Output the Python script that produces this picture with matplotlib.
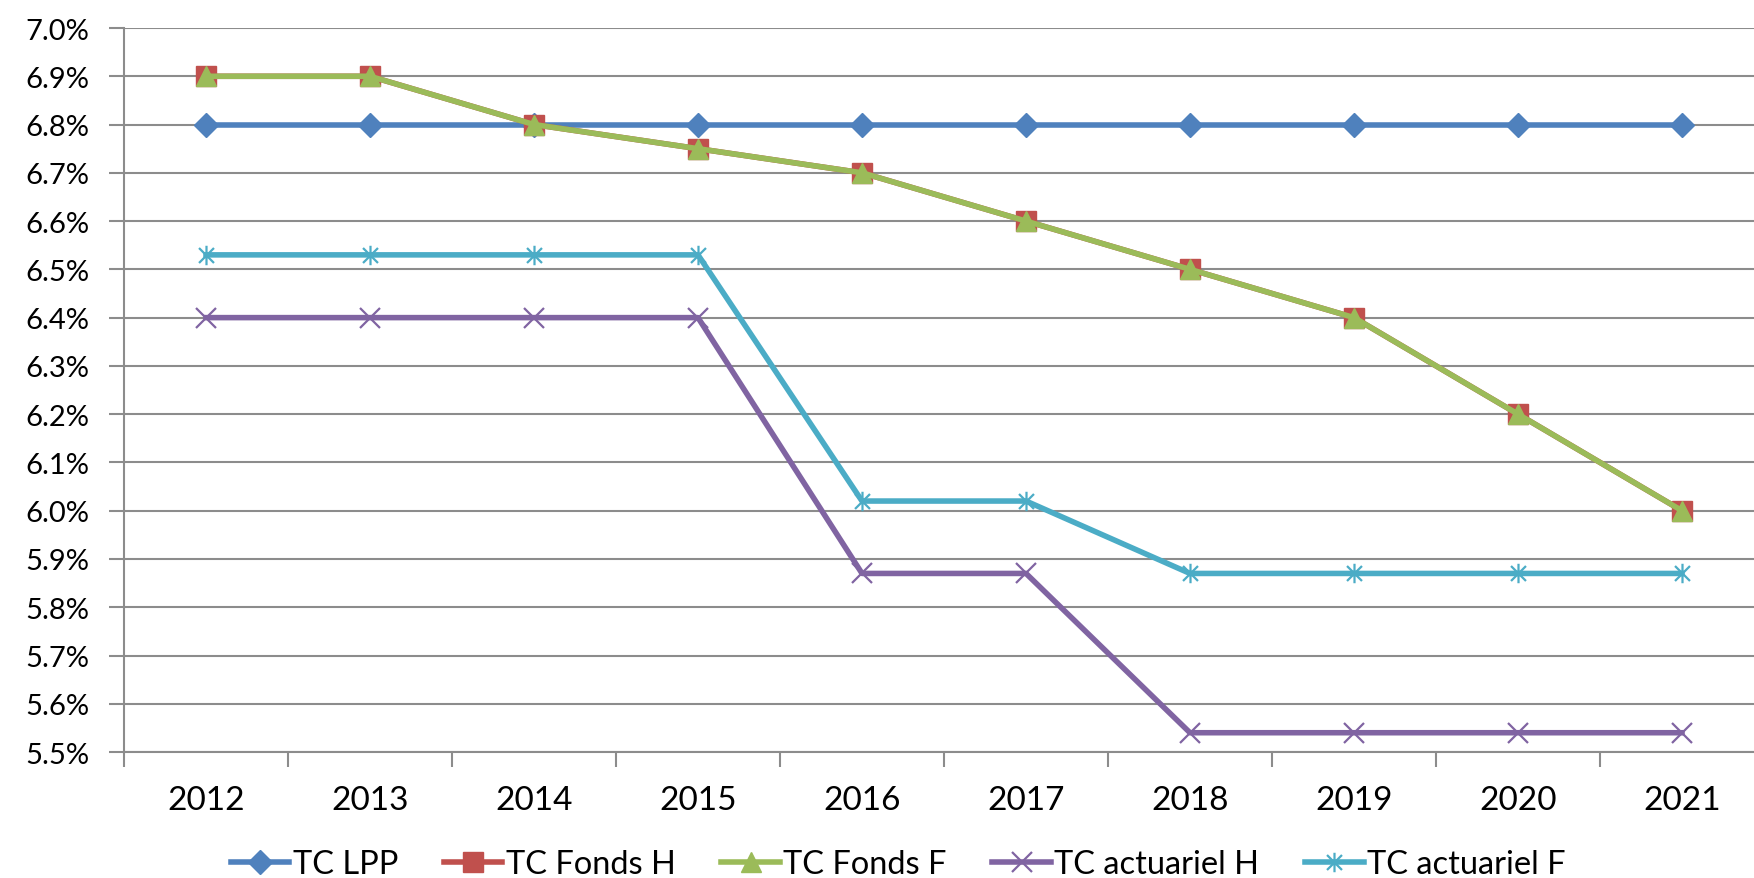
import matplotlib
matplotlib.use("Agg")
import matplotlib.pyplot as plt
from matplotlib.path import Path
from matplotlib.ticker import FixedLocator, PercentFormatter

plt.rcParams['font.family'] = ['Lato', 'DejaVu Sans']

years = ['2012', '2013', '2014', '2015', '2016', '2017', '2018', '2019', '2020', '2021']
tc_lpp = [6.8, 6.8, 6.8, 6.8, 6.8, 6.8, 6.8, 6.8, 6.8, 6.8]
tc_fonds_h = [6.9, 6.9, 6.8, 6.75, 6.7, 6.6, 6.5, 6.4, 6.2, 6.0]
tc_fonds_f = [6.9, 6.9, 6.8, 6.75, 6.7, 6.6, 6.5, 6.4, 6.2, 6.0]
tc_act_h = [6.4, 6.4, 6.4, 6.4, 5.87, 5.87, 5.54, 5.54, 5.54, 5.54]
tc_act_f = [6.53, 6.53, 6.53, 6.53, 6.02, 6.02, 5.87, 5.87, 5.87, 5.87]

# asterisk marker like excel: x plus a vertical bar
star = Path([(-1, -1), (1, 1), (-1, 1), (1, -1), (0, -1.3), (0, 1.3)],
            [Path.MOVETO, Path.LINETO, Path.MOVETO, Path.LINETO, Path.MOVETO, Path.LINETO])

fig = plt.figure(figsize=(17.54, 8.79), dpi=100)
ax = fig.add_axes([0.0707, 0.1433, 0.935, 0.8237])

x = list(range(len(years)))
lw = 4
ax.plot(x, tc_lpp, color='#4F81BD', lw=lw, marker='D', ms=12, label='TC LPP', zorder=3)
ax.plot(x, tc_fonds_h, color='#C0504D', lw=lw, marker='s', ms=14, label='TC Fonds H', zorder=4)
ax.plot(x, tc_fonds_f, color='#9BBB59', lw=lw, marker='^', ms=15, label='TC Fonds F', zorder=5)
ax.plot(x, tc_act_h, color='#8064A2', lw=lw, marker='x', ms=14, mew=1.6, label='TC actuariel H', zorder=3)
ax.plot(x, tc_act_f, color='#4BACC6', lw=lw, marker=star, ms=14, mew=1.6, label='TC actuariel F', zorder=3)

ax.set_xlim(-0.5, 9.5)
ax.set_ylim(5.5, 7.0)
ax.set_yticks([5.5 + 0.1 * i for i in range(16)])
ax.yaxis.set_major_formatter(PercentFormatter(decimals=1))
ax.grid(axis='y', color='#8C8C8C', lw=1.5)
ax.set_axisbelow(True)

ax.set_xticks(x)
ax.set_xticklabels(years)
ax.xaxis.set_minor_locator(FixedLocator([i - 0.5 for i in range(11)]))
ax.tick_params(axis='x', which='major', length=0, pad=24, labelsize=24)
ax.tick_params(axis='x', which='minor', length=11, width=1.5, color='#8C8C8C')
ax.tick_params(axis='y', length=11, width=1.5, color='#8C8C8C', pad=14, labelsize=21)

for s in ['top', 'right']:
    ax.spines[s].set_visible(False)
for s in ['left', 'bottom']:
    ax.spines[s].set_color('#8C8C8C')
    ax.spines[s].set_linewidth(1.5)

fig.legend(loc='center', bbox_to_anchor=(0.512, 0.016), ncol=5, frameon=False,
           fontsize=23.5, handlelength=1.8, handletextpad=0.1, columnspacing=1.4,
           borderaxespad=0)

fig.savefig('out.png', dpi=100)
